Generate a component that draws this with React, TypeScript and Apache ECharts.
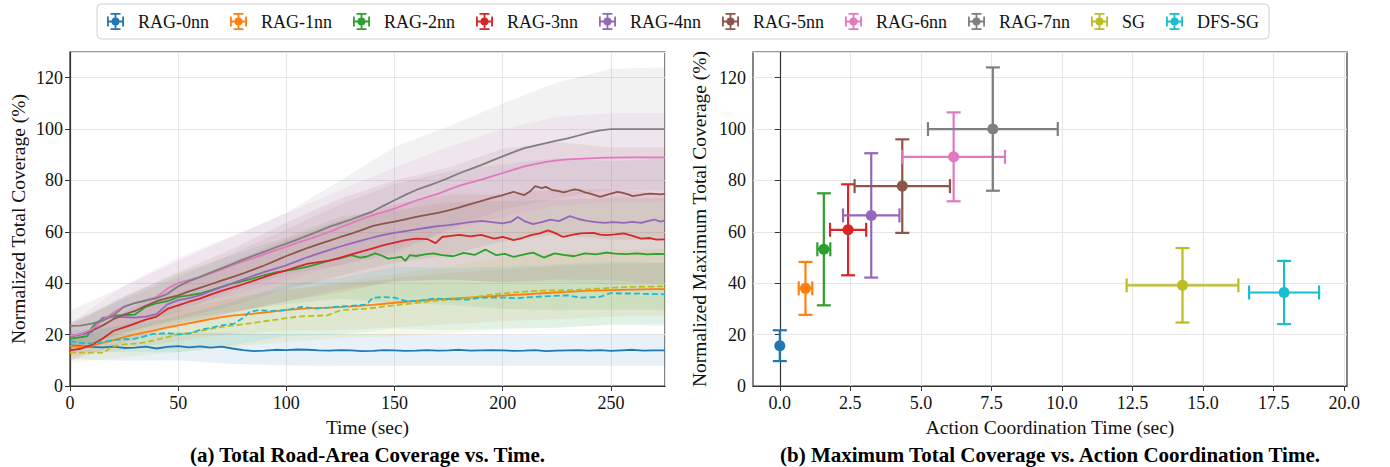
import React, { useEffect, useRef } from "react";
import * as echarts from "echarts";

const FONT = "'Liberation Serif', 'Times New Roman', serif";

const names = ["RAG-0nn", "RAG-1nn", "RAG-2nn", "RAG-3nn", "RAG-4nn", "RAG-5nn", "RAG-6nn", "RAG-7nn", "SG", "DFS-SG"];
const colors = ["#1f77b4", "#ff7f0e", "#2ca02c", "#d62728", "#9467bd", "#8c564b", "#e377c2", "#7f7f7f", "#bcbd22", "#17becf"];
const dashed = [false, false, false, false, false, false, false, false, true, true];

// (a) mean coverage over time [time, %]
const rag0Line = [[0,15.8],[5,15.5],[10,15.2],[15,15.0],[20,15.3],[25,14.8],[30,14.9],[35,15.3],[40,14.6],[45,15.2],[50,15.5],[55,15.0],[60,15.4],[65,14.9],[70,15.3],[75,14.6],[80,14.0],[85,13.6],[90,13.8],[95,14.1],[100,14.0],[105,14.2],[110,14.1],[115,13.9],[120,13.8],[125,14.0],[130,13.9],[135,13.6],[140,13.7],[145,14.0],[150,13.9],[155,13.7],[160,13.8],[165,14.0],[170,13.8],[175,13.9],[180,14.1],[185,13.8],[190,13.9],[195,14.0],[200,13.9],[205,13.7],[210,13.8],[215,14.0],[220,13.6],[225,13.8],[230,13.9],[235,14.0],[240,13.8],[245,14.0],[250,13.7],[255,13.9],[260,14.1],[265,13.8],[270,13.9],[275,13.9]];
const rag1Line = [[0,15.6],[5,15.3],[10,15.6],[15,16.8],[20,17.9],[25,19.0],[30,20.1],[35,21.0],[40,21.8],[45,22.8],[50,23.6],[55,24.4],[60,25.2],[65,26.0],[70,26.8],[75,27.4],[80,27.8],[85,28.2],[90,28.6],[100,29.6],[110,30.2],[120,30.5],[130,31.0],[140,31.6],[150,32.4],[160,33.1],[170,33.7],[180,34.2],[190,34.7],[200,35.2],[210,35.7],[220,36.2],[230,36.6],[240,37.1],[250,37.3],[260,37.5],[270,37.7],[275,37.7]];
const rag2Line = [[0,18.4],[5,19.0],[8,19.4],[10,22.5],[12,24.5],[15,26.0],[20,27.5],[25,27.6],[30,27.8],[35,30.8],[40,32.2],[45,33.0],[50,34.7],[55,35.3],[60,36.0],[65,37.2],[70,38.6],[75,39.8],[80,40.8],[85,42.0],[90,43.2],[95,44.2],[100,44.9],[105,45.6],[110,46.5],[115,47.6],[120,48.9],[125,49.8],[130,50.9],[134,50.0],[137,50.3],[141,51.6],[144,50.8],[147,49.6],[150,49.9],[153,50.3],[155,48.7],[157,50.9],[160,50.6],[164,51.2],[168,51.6],[172,50.9],[177,50.5],[182,51.8],[187,51.0],[192,53.1],[197,50.9],[201,51.4],[205,50.3],[210,51.2],[214,51.9],[219,50.0],[224,51.6],[228,51.0],[233,50.5],[238,51.6],[243,51.2],[248,51.9],[252,51.5],[257,51.3],[262,51.6],[267,51.2],[271,51.4],[275,51.3]];
const rag3Line = [[0,13.9],[5,14.5],[10,16.0],[15,18.4],[20,21.4],[25,22.8],[30,24.3],[35,25.8],[40,27.0],[45,30.0],[50,31.4],[55,32.8],[60,34.0],[65,35.6],[70,37.0],[75,38.3],[80,39.6],[85,41.0],[90,42.5],[95,43.8],[100,45.0],[105,46.4],[110,47.6],[115,48.2],[120,48.8],[125,50.0],[130,51.2],[135,52.4],[140,53.6],[145,54.8],[150,55.8],[155,56.8],[160,57.4],[165,57.2],[169,55.6],[172,58.0],[176,58.4],[180,58.8],[185,58.2],[190,58.8],[196,57.4],[200,58.0],[205,56.8],[209,57.6],[213,58.7],[217,59.4],[221,60.6],[224,59.6],[228,58.0],[232,58.8],[236,59.4],[242,59.6],[245,58.9],[248,58.7],[252,59.0],[256,59.4],[260,58.4],[264,57.4],[268,57.6],[271,57.0],[275,57.1]];
const rag4Line = [[0,19.4],[5,20.0],[10,21.0],[13,24.5],[15,26.5],[20,27.0],[25,26.8],[30,26.6],[35,27.0],[40,28.0],[45,31.8],[50,33.4],[55,34.2],[60,35.3],[65,36.9],[70,38.5],[75,40.0],[80,41.5],[85,43.0],[90,44.4],[95,45.7],[100,47.0],[105,48.6],[110,50.2],[115,51.6],[120,53.0],[125,54.3],[130,55.5],[135,56.7],[140,57.8],[145,58.8],[150,59.6],[155,60.3],[160,61.0],[165,61.6],[170,62.2],[175,62.6],[180,63.2],[185,63.8],[190,64.3],[195,63.8],[200,63.3],[204,64.0],[207,65.8],[210,64.2],[214,63.0],[218,63.8],[222,64.8],[226,64.2],[231,66.1],[235,65.0],[239,64.3],[243,63.8],[247,63.5],[251,63.8],[256,63.5],[260,63.9],[264,63.5],[267,64.2],[270,64.8],[273,64.0],[275,64.5]];
const rag5Line = [[0,19.4],[5,20.2],[10,21.5],[15,23.5],[20,26.0],[25,27.8],[30,29.2],[35,31.2],[40,33.0],[45,34.2],[50,35.3],[55,36.8],[60,38.2],[65,39.6],[70,41.0],[75,42.4],[80,43.8],[85,45.4],[90,47.0],[95,48.8],[100,50.6],[105,52.2],[110,53.8],[115,55.2],[120,56.6],[125,58.0],[130,59.3],[135,60.8],[140,62.3],[145,63.2],[150,64.0],[155,64.9],[160,65.8],[165,66.6],[170,67.4],[175,68.4],[180,69.5],[185,70.8],[190,72.0],[195,73.2],[200,74.3],[205,75.6],[208,74.8],[210,74.3],[213,76.0],[215,77.8],[218,77.0],[220,77.5],[223,76.2],[225,76.0],[228,75.4],[230,75.8],[233,76.5],[235,76.3],[238,75.4],[240,75.0],[243,74.2],[245,73.6],[248,74.4],[250,74.9],[253,75.6],[255,75.3],[258,74.6],[260,73.9],[263,74.3],[265,74.6],[268,74.9],[270,74.8],[273,74.6],[275,74.9]];
const rag6Line = [[0,19.5],[5,20.2],[10,22.0],[15,25.5],[20,28.5],[25,31.0],[30,32.3],[35,33.4],[40,34.6],[45,37.9],[50,40.1],[55,41.2],[60,42.4],[65,43.8],[70,45.4],[75,47.0],[80,48.5],[85,49.9],[90,51.3],[95,52.8],[100,54.2],[105,55.7],[110,57.1],[115,58.5],[120,60.0],[125,61.8],[130,63.4],[135,65.0],[140,66.5],[145,67.8],[150,69.0],[155,70.6],[160,72.2],[165,73.5],[170,74.8],[175,76.4],[180,78.0],[185,79.2],[190,80.3],[195,81.6],[200,82.9],[205,84.2],[210,85.5],[215,86.4],[220,87.2],[225,87.8],[230,88.2],[235,88.4],[240,88.6],[245,88.8],[250,88.9],[260,89.0],[270,89.0],[275,89.0]];
const rag7Line = [[0,23.4],[5,23.5],[10,24.3],[15,25.3],[20,27.5],[25,30.8],[30,32.3],[35,33.2],[40,34.2],[45,35.8],[50,38.8],[55,40.8],[60,42.4],[65,44.1],[70,45.8],[75,47.5],[80,49.2],[85,50.8],[90,52.3],[95,53.9],[100,55.4],[105,57.0],[110,58.6],[115,60.3],[120,62.0],[125,63.4],[130,64.8],[135,66.4],[140,68.0],[145,70.2],[150,72.3],[155,74.4],[160,76.3],[165,77.8],[170,79.3],[175,81.0],[180,82.8],[185,84.4],[190,86.0],[195,87.7],[200,89.4],[205,91.0],[210,92.6],[215,93.6],[220,94.5],[225,95.5],[230,96.4],[235,97.5],[240,98.6],[245,99.5],[250,100.0],[260,100.0],[270,100.0],[275,100.0]];
const sgLine = [[0,13.0],[8,13.0],[16,13.0],[19,15.3],[25,16.2],[30,16.5],[35,17.0],[39,17.8],[45,19.0],[50,20.1],[55,20.6],[60,21.4],[65,22.2],[70,23.0],[76,23.6],[85,24.6],[93,25.6],[100,26.4],[107,27.1],[113,27.3],[119,27.5],[125,29.5],[131,29.8],[137,30.1],[144,30.8],[150,31.4],[158,32.1],[163,32.6],[168,33.1],[176,33.6],[184,34.2],[192,35.2],[199,36.0],[207,36.5],[215,37.0],[222,37.2],[230,37.3],[238,37.6],[245,37.9],[252,38.3],[260,38.6],[268,38.7],[275,38.8]];
const dfsLine = [[0,17.4],[5,16.8],[8,16.5],[12,16.8],[15,17.1],[20,17.9],[25,18.2],[30,18.4],[34,19.2],[38,20.2],[45,20.6],[50,20.1],[55,20.4],[60,21.8],[65,22.6],[70,23.6],[76,24.3],[80,26.5],[83,28.8],[87,29.5],[93,29.2],[100,29.5],[107,30.8],[114,30.1],[122,30.8],[130,31.2],[137,31.7],[140,34.4],[145,34.6],[150,34.4],[155,33.1],[161,33.1],[168,34.0],[176,33.8],[184,33.6],[190,34.4],[200,34.4],[207,34.2],[215,34.7],[222,35.0],[230,35.3],[236,34.4],[245,34.7],[250,36.2],[255,36.0],[260,36.0],[268,35.8],[275,35.7]];
const lines = [rag0Line, rag1Line, rag2Line, rag3Line, rag4Line, rag5Line, rag6Line, rag7Line, sgLine, dfsLine];

// (a) shaded spread bands, lower and upper edges at bandX
const bandX = [0, 25, 50, 75, 100, 125, 150, 175, 200, 225, 250, 275];
const rag0Lo = [10.5, 9.8, 10.0, 8.6, 8.0, 7.9, 7.9, 7.8, 7.9, 7.8, 7.9, 7.9];
const rag0Hi = [19.5, 19.8, 21.0, 20.6, 20.0, 19.9, 19.9, 19.8, 19.9, 19.8, 19.9, 19.9];
const rag1Lo = [11.6, 14.0, 17.6, 20.3, 21.6, 21.7, 22.9, 24.0, 25.2, 26.1, 27.0, 27.4];
const rag1Hi = [19.6, 24.0, 29.6, 34.3, 37.6, 39.7, 41.9, 44.0, 45.2, 46.7, 47.6, 48.0];
const rag2Lo = [13.4, 20.7, 25.7, 29.0, 31.9, 34.0, 32.3, 31.5, 30.0, 29.5, 29.7, 29.5];
const rag2Hi = [23.4, 34.7, 43.7, 51.0, 57.9, 66.0, 68.3, 71.5, 72.0, 72.5, 73.3, 73.1];
const rag3Lo = [9.9, 16.8, 23.4, 28.5, 33.0, 36.5, 40.8, 41.5, 40.5, 41.5, 41.3, 39.4];
const rag3Hi = [17.9, 28.8, 39.4, 48.5, 57.0, 64.5, 70.8, 74.5, 74.5, 76.5, 76.7, 74.8];
const rag4Lo = [14.4, 19.8, 24.4, 28.5, 33.0, 37.7, 40.6, 41.5, 40.3, 40.6, 39.5, 40.5];
const rag4Hi = [24.4, 33.8, 42.4, 51.5, 61.0, 70.7, 78.6, 83.5, 86.3, 88.6, 87.5, 88.5];
const rag5Lo = [14.4, 20.8, 26.3, 31.3, 37.6, 43.0, 48.0, 51.0, 56.3, 59.0, 56.9, 56.9];
const rag5Hi = [24.4, 34.8, 44.3, 53.3, 63.6, 73.0, 80.0, 85.0, 92.3, 95.0, 92.9, 92.9];
const rag6Lo = [14.5, 23.0, 30.1, 35.4, 41.2, 47.2, 53.0, 60.0, 65.9, 70.2, 71.6, 71.7];
const rag6Hi = [24.5, 39.0, 50.1, 58.4, 67.2, 76.2, 85.0, 93.0, 99.9, 104.8, 106.2, 106.3];
const rag7Lo = [17.4, 22.8, 28.8, 37.1, 43.4, 47.0, 51.6, 61.0, 68.8, 73.0, 76.5, 76.0];
const rag7Hi = [29.4, 38.8, 48.8, 58.1, 67.4, 80.0, 93.0, 101.0, 110.0, 118.0, 123.5, 124.0];
const sgLo = [9.0, 11.2, 13.1, 15.1, 17.0, 18.7, 19.4, 20.5, 22.0, 22.7, 23.7, 24.3];
const sgHi = [17.0, 21.2, 27.1, 32.1, 37.0, 40.7, 43.4, 46.5, 50.0, 51.7, 52.7, 53.3];
const dfsLo = [13.4, 13.2, 13.1, 15.8, 19.5, 20.0, 22.4, 21.8, 22.4, 22.7, 23.9, 23.4];
const dfsHi = [21.4, 23.2, 27.1, 32.8, 39.5, 42.0, 46.4, 45.8, 46.4, 47.3, 48.5, 48.0];
const bandLo = [rag0Lo, rag1Lo, rag2Lo, rag3Lo, rag4Lo, rag5Lo, rag6Lo, rag7Lo, sgLo, dfsLo];
const bandHi = [rag0Hi, rag1Hi, rag2Hi, rag3Hi, rag4Hi, rag5Hi, rag6Hi, rag7Hi, sgHi, dfsHi];

// (b) coordination time, max coverage, x error, y error
const coordTime = [0.0, 0.91, 1.56, 2.42, 3.24, 4.34, 6.16, 7.55, 14.27, 17.87];
const maxCoverage = [15.7, 38.0, 53.2, 60.8, 66.4, 77.8, 89.2, 100.0, 39.2, 36.4];
const coordTimeErr = [0, 0.24, 0.23, 0.64, 1.0, 1.69, 1.82, 2.3, 1.98, 1.24];
const maxCoverageErr = [6.0, 10.3, 21.8, 17.7, 24.2, 18.2, 17.3, 24.0, 14.5, 12.3];

const rightXTicks = [0, 2.5, 5, 7.5, 10, 12.5, 15, 17.5, 20];

const LEGEND_ICON =
  "path://M0,7.6H17V9.4H0Z M7.6,0H9.4V17H7.6Z M0,3.5H1.8V13.5H0Z M15.2,3.5H17V13.5H15.2Z M3.5,0H13.5V1.8H3.5Z M3.5,15.2H13.5V17H3.5Z M4.5,8.5A4,4 0 1 1 12.5,8.5A4,4 0 1 1 4.5,8.5Z";

const AX = "#333333";
const GRIDC = "#e6e6e6";

function yAxis(gridIndex: number, name: string, gap: number) {
  return {
    type: "value",
    gridIndex,
    min: 0,
    max: 130,
    interval: 20,
    name,
    nameLocation: "middle",
    nameGap: gap,
    nameTextStyle: { fontFamily: FONT, fontSize: 19.5, color: "#111" },
    axisLine: { show: true, lineStyle: { color: AX, width: 1.2 } },
    axisTick: { show: true, length: 5, lineStyle: { color: AX, width: 1 } },
    axisLabel: { fontFamily: FONT, fontSize: 18, color: "#111", margin: 7, showMaxLabel: false },
    splitLine: { show: true, lineStyle: { color: GRIDC, width: 1 } },
  };
}

export default function App() {
  const ref = useRef<HTMLDivElement>(null);
  useEffect(() => {
    if (!ref.current) return;
    const chart = echarts.init(ref.current, null, { renderer: "svg" });

    const series: any[] = [];
    // (b) error bar series first so the legend takes their style
    names.forEach((n, i) => {
      series.push({
        type: "custom",
        name: n,
        coordinateSystem: "cartesian2d",
        xAxisIndex: 1,
        yAxisIndex: 1,
        itemStyle: { color: colors[i] },
        dimensions: ["x", "y", "xe", "ye"],
        encode: { x: 0, y: 1 },
        data: [[coordTime[i], maxCoverage[i], coordTimeErr[i], maxCoverageErr[i]]],
        z: 5,
        renderItem: (params: any, api: any) => {
          const x = api.value(0), y = api.value(1), xe = api.value(2), ye = api.value(3);
          const c = api.coord([x, y]);
          const pT = api.coord([x, y + ye]);
          const pB = api.coord([x, y - ye]);
          const col = colors[i];
          const st = { stroke: col, lineWidth: 2.2 };
          const cap = 7;
          const ch: any[] = [
            { type: "line", shape: { x1: pT[0], y1: pT[1], x2: pB[0], y2: pB[1] }, style: st },
            { type: "line", shape: { x1: pT[0] - cap, y1: pT[1], x2: pT[0] + cap, y2: pT[1] }, style: st },
            { type: "line", shape: { x1: pB[0] - cap, y1: pB[1], x2: pB[0] + cap, y2: pB[1] }, style: st },
          ];
          if (xe > 0) {
            const pL = api.coord([x - xe, y]);
            const pR = api.coord([x + xe, y]);
            ch.push(
              { type: "line", shape: { x1: pL[0], y1: pL[1], x2: pR[0], y2: pR[1] }, style: st },
              { type: "line", shape: { x1: pL[0], y1: pL[1] - cap, x2: pL[0], y2: pL[1] + cap }, style: st },
              { type: "line", shape: { x1: pR[0], y1: pR[1] - cap, x2: pR[0], y2: pR[1] + cap }, style: st }
            );
          }
          ch.push({ type: "circle", shape: { cx: c[0], cy: c[1], r: 5.5 }, style: { fill: col } });
          return { type: "group", children: ch };
        },
      });
    });
    // (a) shaded bands as polygons
    names.forEach((n, i) => {
      series.push({
        type: "custom",
        name: n + " band",
        coordinateSystem: "cartesian2d",
        xAxisIndex: 0,
        yAxisIndex: 0,
        silent: true,
        clip: true,
        z: 1,
        encode: { x: 0, y: 1 },
        data: [[bandX[0], bandLo[i][0]]],
        renderItem: (params: any, api: any) => {
          const pts: number[][] = [];
          for (let k = 0; k < bandX.length; k++) pts.push(api.coord([bandX[k], bandHi[i][k]]));
          for (let k = bandX.length - 1; k >= 0; k--) pts.push(api.coord([bandX[k], bandLo[i][k]]));
          return { type: "polygon", shape: { points: pts }, style: { fill: colors[i], opacity: 0.1 } };
        },
      });
    });
    // (a) mean lines
    names.forEach((n, i) => {
      series.push({
        type: "line",
        name: n,
        xAxisIndex: 0,
        yAxisIndex: 0,
        symbol: "none",
        z: 3,
        itemStyle: { color: colors[i] },
        lineStyle: { color: colors[i], width: 1.8, type: dashed[i] ? [6, 3] : "solid" },
        data: lines[i],
      });
    });

    chart.setOption({
      animation: false,
      backgroundColor: "#ffffff",
      legend: {
        data: names,
        left: 97,
        top: 4,
        padding: [8, 10],
        itemWidth: 17,
        itemHeight: 17,
        itemGap: 21,
        icon: LEGEND_ICON,
        selectedMode: false,
        borderColor: "#d0d0d0",
        borderWidth: 1,
        borderRadius: 4,
        textStyle: { fontFamily: FONT, fontSize: 18, color: "#111", padding: [0, 0, 0, 9], lineHeight: 19 },
      },
      grid: [
        { left: 70, top: 52, width: 595, height: 334, show: true, borderColor: AX, borderWidth: 1.2, backgroundColor: "transparent" },
        { left: 753, top: 52, width: 594, height: 334, show: true, borderColor: AX, borderWidth: 1.2, backgroundColor: "transparent" },
      ],
      xAxis: [
        {
          type: "value",
          gridIndex: 0,
          min: 0,
          max: 275,
          interval: 50,
          name: "Time (sec)",
          nameLocation: "middle",
          nameGap: 31,
          nameTextStyle: { fontFamily: FONT, fontSize: 19.5, color: "#111" },
          axisLine: { show: true, onZero: false, lineStyle: { color: AX, width: 1.2 } },
          axisTick: { show: true, length: 5, lineStyle: { color: AX, width: 1 } },
          axisLabel: { fontFamily: FONT, fontSize: 18, color: "#111", margin: 8, showMaxLabel: false },
          splitLine: { show: true, lineStyle: { color: GRIDC, width: 1 } },
        },
        {
          type: "value",
          gridIndex: 1,
          min: -0.95,
          max: 20.1,
          name: "Action Coordination Time (sec)",
          nameLocation: "middle",
          nameGap: 31,
          nameTextStyle: { fontFamily: FONT, fontSize: 19.5, color: "#111" },
          axisLine: { show: true, onZero: false, lineStyle: { color: AX, width: 1.2 } },
          axisTick: { show: true, length: 5, customValues: rightXTicks, lineStyle: { color: AX, width: 1 } },
          axisLabel: {
            fontFamily: FONT,
            fontSize: 18,
            color: "#111",
            margin: 8,
            customValues: rightXTicks,
            showMinLabel: true,
            showMaxLabel: true,
            formatter: (v: number) => v.toFixed(1),
          },
          splitLine: { show: true, lineStyle: { color: GRIDC, width: 1 } },
        },
      ],
      yAxis: [
        yAxis(0, "Normalized Total Coverage (%)", 42),
        yAxis(1, "Normalized Maximum Total Coverage (%)", 43.5),
      ],
      graphic: [
        {
          type: "text",
          x: 367.5,
          y: 455,
          style: {
            text: "(a) Total Road-Area Coverage vs. Time.",
            fontFamily: FONT,
            fontSize: 21,
            fontWeight: "bold",
            fill: "#000",
            align: "center",
            verticalAlign: "middle",
          },
        },
        {
          type: "text",
          x: 1050,
          y: 455,
          style: {
            text: "(b) Maximum Total Coverage vs. Action Coordination Time.",
            fontFamily: FONT,
            fontSize: 21,
            fontWeight: "bold",
            fill: "#000",
            align: "center",
            verticalAlign: "middle",
          },
        },
      ],
      series,
    });
    return () => chart.dispose();
  }, []);
  return <div ref={ref} style={{ position: "fixed", left: 0, top: 0, width: 1390, height: 467 }} />;
}
